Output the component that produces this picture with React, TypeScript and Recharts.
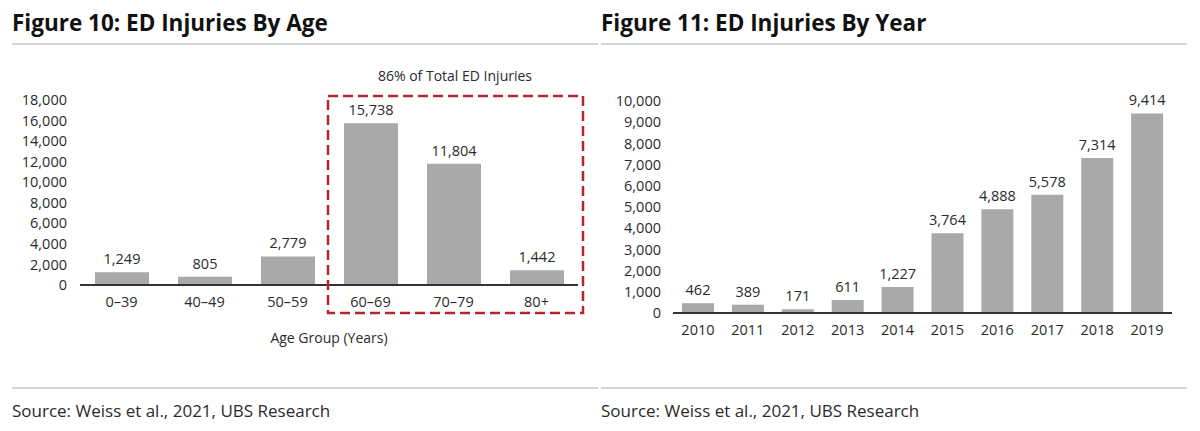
import { BarChart, Bar, XAxis, YAxis, LabelList } from "recharts";

const ageGroups = ["0–39", "40–49", "50–59", "60–69", "70–79", "80+"];
const ageInjuries = [1249, 805, 2779, 15738, 11804, 1442];
const ageTicks = [0, 2000, 4000, 6000, 8000, 10000, 12000, 14000, 16000, 18000];

const years = ["2010", "2011", "2012", "2013", "2014", "2015", "2016", "2017", "2018", "2019"];
const yearInjuries = [462, 389, 171, 611, 1227, 3764, 4888, 5578, 7314, 9414];
const yearTicks = [0, 1000, 2000, 3000, 4000, 5000, 6000, 7000, 8000, 9000, 10000];

const FONT = "'Open Sans', 'Noto Sans', sans-serif";
const TEXT = "#2b2b2b";
const BAR = "#a9a9a9";
const RULE = "#d4d4d4";

const fmt = (v: number) => v.toLocaleString("en-US");

const tickStyle = { fontSize: 14.5, fill: TEXT, fontFamily: FONT };

export default function App() {
  const ageData = ageGroups.map((g, i) => ({ group: g, value: ageInjuries[i] }));
  const yearData = years.map((y, i) => ({ year: y, value: yearInjuries[i] }));

  const title = (left: number, text: string) => (
    <div
      style={{
        position: "absolute",
        left,
        top: 7,
        fontSize: 22.5,
        fontWeight: 700,
        color: "#111",
        fontFamily: FONT,
        whiteSpace: "nowrap",
      }}
    >
      {text}
    </div>
  );

  const rule = (left: number, top: number, width: number) => (
    <div
      style={{
        position: "absolute",
        left,
        top,
        width,
        height: 2,
        background: RULE,
      }}
    />
  );

  const source = (left: number) => (
    <div
      style={{
        position: "absolute",
        left,
        top: 399,
        fontSize: 17,
        color: TEXT,
        fontFamily: FONT,
        whiteSpace: "nowrap",
      }}
    >
      Source: Weiss et al., 2021, UBS Research
    </div>
  );

  return (
    <div
      style={{
        position: "absolute",
        left: 0,
        top: 0,
        width: 1200,
        height: 431,
        background: "#fff",
        overflow: "hidden",
      }}
    >
      {title(12, "Figure 10: ED Injuries By Age")}
      {title(601, "Figure 11: ED Injuries By Year")}
      {rule(12, 43, 586)}
      {rule(601, 43, 586)}
      {rule(12, 387, 586)}
      {rule(601, 387, 586)}
      {source(12)}
      {source(601)}

      <div
        style={{
          position: "absolute",
          left: 355,
          width: 200,
          top: 66,
          textAlign: "center",
          fontSize: 14,
          color: TEXT,
          fontFamily: FONT,
        }}
      >
        86% of Total ED Injuries
      </div>

      <div style={{ position: "absolute", left: 0, top: 0 }}>
        <BarChart
          width={600}
          height={360}
          data={ageData}
          margin={{ top: 100, right: 22, bottom: 15, left: 0 }}
        >
          <XAxis
            dataKey="group"
            height={60}
            tick={tickStyle}
            tickLine={false}
            tickMargin={6}
            axisLine={{ stroke: "#333", strokeWidth: 2 }}
            label={{
              value: "Age Group (Years)",
              position: "insideBottom",
              offset: 2,
              style: { fontSize: 14, fill: TEXT, fontFamily: FONT },
            }}
          />
          <YAxis
            width={80}
            domain={[0, 18000]}
            ticks={ageTicks}
            tickFormatter={fmt}
            tick={tickStyle}
            tickLine={false}
            axisLine={false}
            tickSize={0}
            tickMargin={13}
            interval={0}
          />
          <Bar dataKey="value" fill={BAR} barSize={54} isAnimationActive={false}>
            <LabelList
              dataKey="value"
              position="top"
              offset={8}
              formatter={(v: any) => fmt(Number(v))}
              style={{ fontSize: 14.5, fill: TEXT, fontFamily: FONT }}
            />
          </Bar>
        </BarChart>
      </div>

      <svg
        width={1200}
        height={431}
        style={{ position: "absolute", left: 0, top: 0, pointerEvents: "none" }}
      >
        <rect
          x={328}
          y={96}
          width={255}
          height={217}
          fill="none"
          stroke="#b3262d"
          strokeWidth={2.5}
          strokeDasharray="10 5"
        />
      </svg>

      <div style={{ position: "absolute", left: 600, top: 0 }}>
        <BarChart
          width={600}
          height={360}
          data={yearData}
          margin={{ top: 101, right: 28, bottom: 17, left: 0 }}
        >
          <XAxis
            dataKey="year"
            height={30}
            tick={tickStyle}
            tickLine={false}
            tickMargin={6}
            axisLine={{ stroke: "#333", strokeWidth: 2 }}
            interval={0}
          />
          <YAxis
            width={73}
            domain={[0, 10000]}
            ticks={yearTicks}
            tickFormatter={fmt}
            tick={tickStyle}
            tickLine={false}
            axisLine={false}
            tickSize={0}
            tickMargin={12}
            interval={0}
          />
          <Bar dataKey="value" fill={BAR} barSize={32} isAnimationActive={false}>
            <LabelList
              dataKey="value"
              position="top"
              offset={8}
              formatter={(v: any) => fmt(Number(v))}
              style={{ fontSize: 14.5, fill: TEXT, fontFamily: FONT }}
            />
          </Bar>
        </BarChart>
      </div>
    </div>
  );
}
